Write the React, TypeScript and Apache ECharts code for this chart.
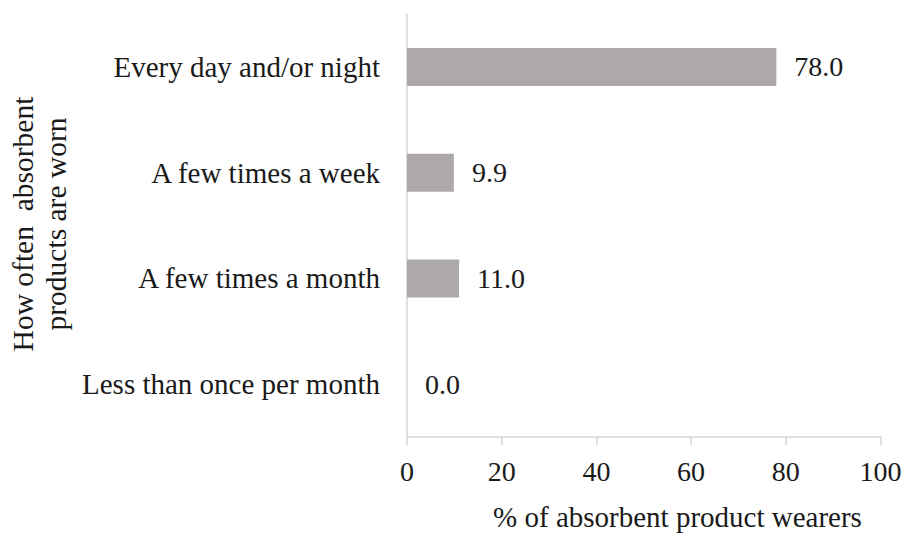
import React, { useEffect, useRef } from "react";
import * as echarts from "echarts";

const categories = [
  "Every day and/or night",
  "A few times a week",
  "A few times a month",
  "Less than once per month",
];
const values = [78.0, 9.9, 11.0, 0.0];
const xTicks = { min: 0, max: 100, interval: 20 };
const xTitle = "% of absorbent product wearers";
const yTitleLines = ["How often  absorbent", "products are worn"];

const FONT = '"Liberation Serif", "Times New Roman", serif';

export default function App() {
  const ref = useRef<HTMLDivElement>(null);
  useEffect(() => {
    document.body.style.margin = "0";
    if (!ref.current) return;
    const chart = echarts.init(ref.current, null, { renderer: "svg" });
    chart.setOption({
      animation: false,
      backgroundColor: "#ffffff",
      textStyle: { fontFamily: FONT },
      grid: { left: 407, right: 26.5, top: 14, bottom: 98, containLabel: false },
      xAxis: {
        type: "value",
        min: xTicks.min,
        max: xTicks.max,
        interval: xTicks.interval,
        splitLine: { show: false },
        axisLine: { show: true, lineStyle: { color: "#d6d6d6", width: 1.5 } },
        axisTick: { show: true, length: 8, lineStyle: { color: "#d6d6d6", width: 1.5 } },
        axisLabel: { fontFamily: FONT, fontSize: 28, color: "#1a1a1a", margin: 20 },
      },
      yAxis: {
        type: "category",
        data: categories,
        inverse: true,
        axisLine: { show: true, lineStyle: { color: "#d6d6d6", width: 1.5 } },
        axisTick: { show: false },
        axisLabel: { fontFamily: FONT, fontSize: 29, color: "#1a1a1a", margin: 27 },
      },
      series: [
        {
          type: "bar",
          data: values,
          barWidth: 38,
          itemStyle: { color: "#ada9a9" },
          label: {
            show: true,
            position: "right",
            distance: 18,
            fontFamily: FONT,
            fontSize: 28,
            color: "#1a1a1a",
            formatter: (p: any) => Number(p.value).toFixed(1),
          },
        },
      ],
      graphic: [
        {
          type: "text",
          x: 677.5,
          y: 517,
          style: {
            text: xTitle,
            font: `29px ${FONT}`,
            fill: "#1a1a1a",
            textAlign: "center",
            textVerticalAlign: "middle",
          },
        },
        {
          type: "text",
          x: 23,
          y: 224,
          rotation: Math.PI / 2,
          style: {
            text: yTitleLines[0],
            font: `29.5px ${FONT}`,
            fill: "#1a1a1a",
            textAlign: "center",
            textVerticalAlign: "middle",
          },
        },
        {
          type: "text",
          x: 56,
          y: 224,
          rotation: Math.PI / 2,
          style: {
            text: yTitleLines[1],
            font: `29.5px ${FONT}`,
            fill: "#1a1a1a",
            textAlign: "center",
            textVerticalAlign: "middle",
          },
        },
      ],
    });
    return () => chart.dispose();
  }, []);
  return <div ref={ref} style={{ width: 907, height: 535 }} />;
}
